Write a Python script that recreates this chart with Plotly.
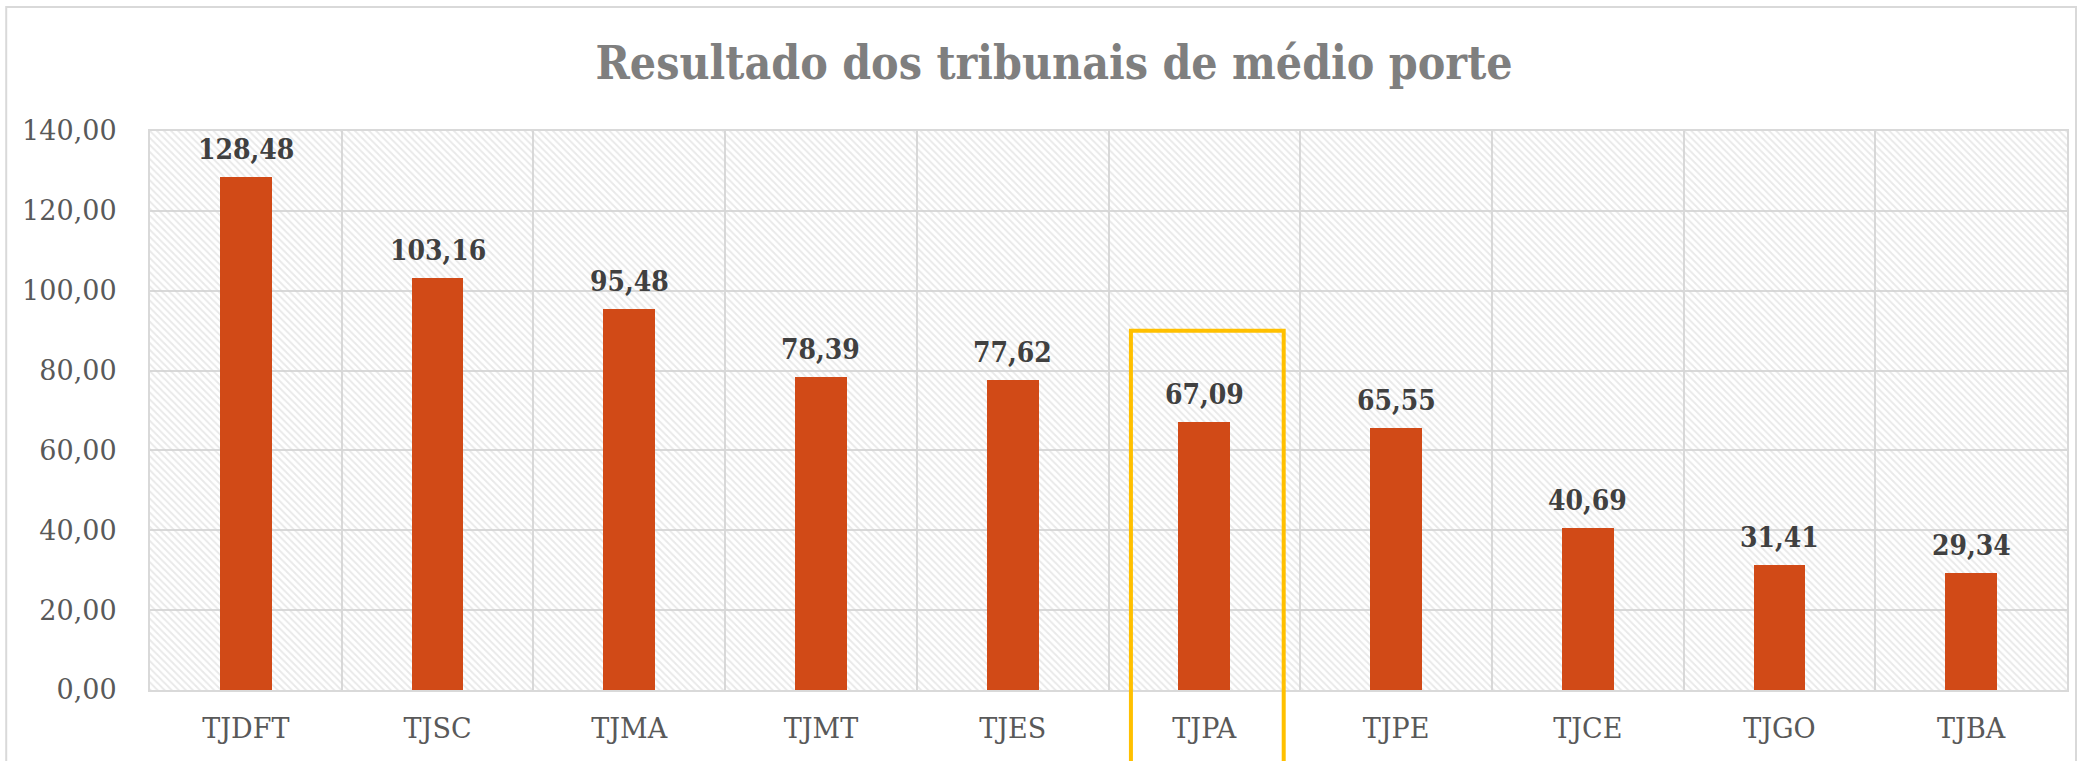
import plotly.graph_objects as go

categories = ["TJDFT", "TJSC", "TJMA", "TJMT", "TJES", "TJPA", "TJPE", "TJCE", "TJGO", "TJBA"]
values = [128.48, 103.16, 95.48, 78.39, 77.62, 67.09, 65.55, 40.69, 31.41, 29.34]
y_ticks = [0, 20, 40, 60, 80, 100, 120, 140]
highlight = "TJPA"
highlight_top = 90

title_text = "Resultado dos tribunais de médio porte"

BAR_COLOR = "#D14A17"
GRID = "#d9d9d9"
ymax = y_ticks[-1]
n = len(categories)
xpos = list(range(n))

fig = go.Figure()

# hatched plot-area background
fig.add_trace(go.Bar(
    x=[(n - 1) / 2], y=[ymax], width=[n],
    marker=dict(color="rgba(0,0,0,0)", line=dict(width=0),
                pattern=dict(shape="\\", fgcolor="#d3d3d3", bgcolor="rgba(0,0,0,0)",
                             size=5, solidity=0.38)),
    hoverinfo="skip", showlegend=False,
))

fig.add_trace(go.Bar(
    x=xpos, y=values, width=0.27,
    marker=dict(color=BAR_COLOR, line=dict(width=0)),
    hoverinfo="skip", showlegend=False,
))

for xi, v in zip(xpos, values):
    fig.add_annotation(
        x=xi, y=v, xref="x", yref="y",
        text=f"{v:.2f}".replace(".", ","),
        showarrow=False, yanchor="bottom", yshift=9,
        font=dict(family="DejaVu Serif Condensed, DejaVu Serif", size=28, color="#404040", weight="bold"),
    )

hi = categories.index(highlight)
fig.add_shape(type="rect", xref="x", yref="paper",
              x0=hi - 0.383, x1=hi + 0.414, y0=-0.35, y1=highlight_top / ymax,
              line=dict(color="#FFC000", width=4), layer="above")

# outer chart border
fig.add_shape(type="rect", xref="paper", yref="paper",
              x0=-0.075, x1=1.0047, y0=-0.3, y1=1.2218,
              line=dict(color=GRID, width=2), layer="below")

fig.update_layout(
    width=2079, height=761,
    margin=dict(l=150, r=10, t=131, b=71),
    paper_bgcolor="white", plot_bgcolor="white",
    barmode="overlay", bargap=0,
    separators=",.",
    showlegend=False,
    hovermode=False,
    title=dict(text=title_text, x=0.507, xref="container", xanchor="center",
               y=1 - 63 / 761, yref="container", yanchor="middle",
               font=dict(family="DejaVu Serif Condensed, DejaVu Serif", size=46,
                         color="#7f7f7f", weight="bold")),
    xaxis=dict(range=[-0.5, n - 0.5], tickmode="array", tickvals=xpos, ticktext=categories,
               showgrid=False, zeroline=False, showline=True, mirror=True,
               linecolor=GRID, linewidth=2, ticks="",
               ticklabelstandoff=14,
               tickfont=dict(family="DejaVu Serif", size=27, color="#595959"),
               minor=dict(tickmode="array", tickvals=[i + 0.5 for i in range(n - 1)],
                          showgrid=True, gridcolor=GRID, gridwidth=2, ticks="")),
    yaxis=dict(range=[0, ymax], tickmode="array", tickvals=y_ticks, tickformat=".2f",
               showgrid=True, gridcolor=GRID, gridwidth=2, zeroline=False,
               showline=True, mirror=True, linecolor=GRID, linewidth=2, ticks="",
               ticklabelstandoff=26,
               tickfont=dict(family="DejaVu Serif", size=27, color="#595959")),
)

fig.write_html("out.html", config={"displayModeBar": False},
               post_script="document.body.style.margin='0';document.body.style.overflow='hidden';")
